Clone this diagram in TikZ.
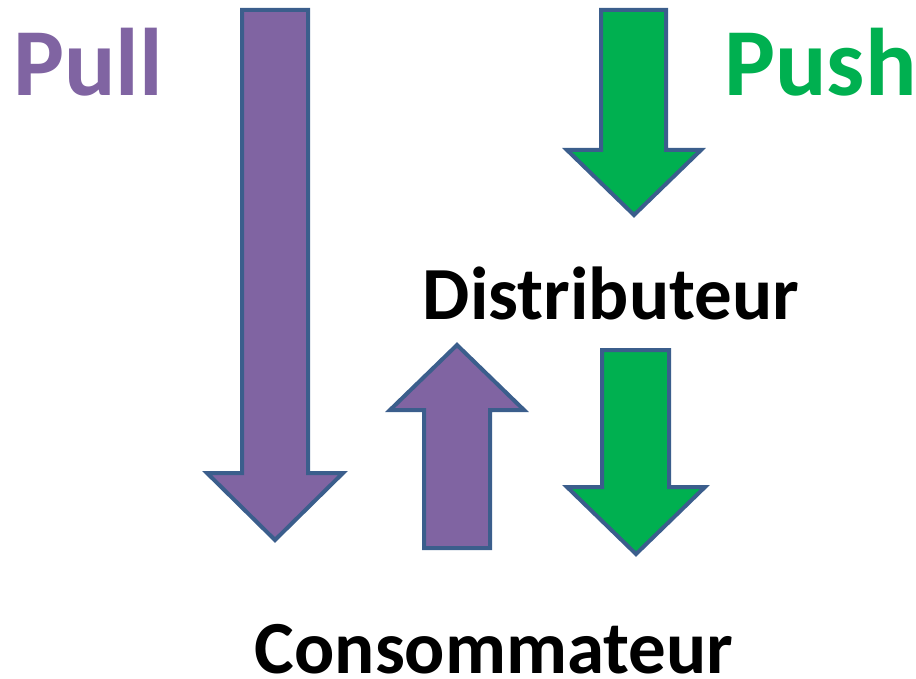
\documentclass[tikz,border=0pt]{standalone}
\usepackage{fontspec}
\setmainfont{Carlito}
\definecolor{pullc}{HTML}{8064A2}
\definecolor{pushc}{HTML}{00B050}
\definecolor{edgec}{HTML}{3B5E8C}
\begin{document}
\begin{tikzpicture}[x=1pt,y=-1pt,
  arrowshape/.style={draw=edgec,line width=4pt,line join=miter},
  lbl/.style={inner sep=0pt,anchor=base,font=\bfseries\fontsize{75}{75}\selectfont},
  big/.style={inner sep=0pt,anchor=base west,font=\bfseries\fontsize{96}{96}\selectfont}]
\useasboundingbox (0,0) rectangle (916,679);
% big purple down arrow
\draw[arrowshape,fill=pullc] (242,10) -- (308,10) -- (308,473) -- (343,473) -- (275,540) -- (207,473) -- (242,473) -- cycle;
% small purple up arrow
\draw[arrowshape,fill=pullc] (457,345) -- (524,410) -- (490,410) -- (490,548) -- (424,548) -- (424,410) -- (390,410) -- cycle;
% green top arrow
\draw[arrowshape,fill=pushc] (601,10) -- (666,10) -- (666,150) -- (701,150) -- (634,215) -- (567,150) -- (601,150) -- cycle;
% green bottom arrow
\draw[arrowshape,fill=pushc] (602,350) -- (669,350) -- (669,487) -- (705,487) -- (636,554) -- (567,487) -- (602,487) -- cycle;
% labels
\node[big,text=pullc] (pull) at (13,96) {Pull};
\node[big,text=pushc] (push) at (724,96) {Push};
\node[lbl] (dist) at (611,319) {Distributeur};
\node[lbl] (cons) at (494,673) {Consommateur};
\end{tikzpicture}
\end{document}
